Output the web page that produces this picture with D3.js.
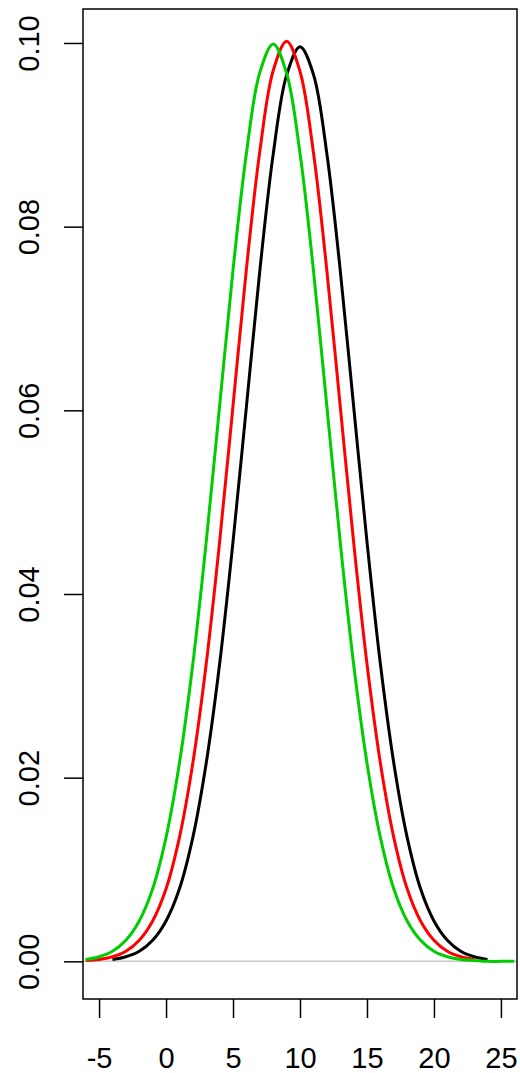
<!DOCTYPE html>
<html>
<head>
<meta charset="utf-8">
<script src="https://cdn.jsdelivr.net/npm/d3@7"></script>
<style>
  body { margin: 0; background: #fff; }
  svg { display: block; }
  text { font-family: "Liberation Sans", Arial, sans-serif; }
</style>
</head>
<body>
<svg width="520" height="1073"></svg>
<script>
// density estimates at 1-unit steps
var blackX = [-4,-3,-2,-1,0,1,2,3,4,5,6,7,8,9,10,11,12,13,14,15,16,17,18,19,20,21,22,23,24];
var blackY = [0.0002,0.0005,0.0011,0.0023,0.0044,0.0079,0.0135,0.0216,0.0324,0.0457,0.0604,0.0752,0.0879,0.0965,0.0996,0.0966,0.0880,0.0753,0.0605,0.0457,0.0324,0.0216,0.0135,0.0079,0.0044,0.0023,0.0011,0.0005,0.0002];

var redX = [-6,-5,-4,-3,-2,-1,0,1,2,3,4,5,6,7,8,9,10,11,12,13,14,15,16,17,18,19,20,21,22,23];
var redY = [0.0001,0.0002,0.0005,0.0011,0.0023,0.0044,0.0079,0.0135,0.0216,0.0324,0.0457,0.0605,0.0754,0.0882,0.0970,0.1002,0.0969,0.0881,0.0753,0.0605,0.0457,0.0324,0.0216,0.0135,0.0079,0.0044,0.0023,0.0011,0.0005,0.0002];

var greenX = [-6,-5,-4,-3,-2,-1,0,1,2,3,4,5,6,7,8,9,10,11,12,13,14,15,16,17,18,19,20,21,22,23,24,25,26];
var greenY = [0.0002,0.0005,0.0011,0.0023,0.0044,0.0079,0.0135,0.0216,0.0324,0.0457,0.0605,0.0753,0.0880,0.0968,0.0999,0.0967,0.0880,0.0753,0.0605,0.0457,0.0324,0.0216,0.0135,0.0079,0.0044,0.0023,0.0011,0.0005,0.0002,0.0001,0,0,0];

var xTicks = [-5,0,5,10,15,20,25];
var yTicks = [0,0.02,0.04,0.06,0.08,0.10];

var series = [
  {x: blackX, y: blackY, col: "#000000"},
  {x: redX, y: redY, col: "#ff0000"},
  {x: greenX, y: greenY, col: "#00cd00"}
];

var plotLeft = 83, plotRight = 517, plotTop = 9, plotBottom = 999;
var svg = d3.select("svg");

var x = d3.scaleLinear().domain([-6.2, 26.2]).range([plotLeft, plotRight]);
var y = d3.scaleLinear().domain([-0.0041, 0.1037]).range([plotBottom, plotTop]);

svg.append("defs").append("clipPath").attr("id", "plotclip")
  .append("rect").attr("x", plotLeft).attr("y", plotTop)
  .attr("width", plotRight - plotLeft).attr("height", plotBottom - plotTop);

// zero line
svg.append("line")
  .attr("x1", plotLeft).attr("x2", plotRight)
  .attr("y1", y(0)).attr("y2", y(0))
  .style("stroke", "#c8c8c8").style("stroke-width", 1.5);

var line = d3.line().curve(d3.curveCatmullRom.alpha(0.5))
  .x(function(d) { return x(d[0]) })
  .y(function(d) { return y(d[1]) });

svg.append("g").attr("clip-path", "url(#plotclip)")
  .selectAll("path").data(series)
  .enter().append("path")
  .attr("d", function(s) {
    return line(s.x.map(function(v, i) { return [v, s.y[i]] }));
  })
  .style("fill", "none")
  .style("stroke", function(s) { return s.col })
  .style("stroke-width", 3)
  .style("stroke-linejoin", "round");

// box
svg.append("rect")
  .attr("x", plotLeft).attr("y", plotTop)
  .attr("width", plotRight - plotLeft).attr("height", plotBottom - plotTop)
  .style("fill", "none").style("stroke", "#000").style("stroke-width", 1.5);

// x axis
var xa = svg.append("g").attr("transform", "translate(0," + plotBottom + ")")
  .call(d3.axisBottom(x).tickValues(xTicks).tickSize(19)
    .tickFormat(function(d) { return String(d) }));
xa.select(".domain").remove();
xa.selectAll(".tick line").style("stroke", "#000").style("stroke-width", 1.5);
xa.selectAll(".tick text")
  .attr("y", 69).attr("dy", null)
  .style("font-size", "29px").style("fill", "#000");

// y axis
var ya = svg.append("g").attr("transform", "translate(" + plotLeft + ",0)")
  .call(d3.axisLeft(y).tickValues(yTicks).tickSize(19));
ya.select(".domain").remove();
ya.selectAll(".tick line").style("stroke", "#000").style("stroke-width", 1.5);
ya.selectAll(".tick text").remove();
ya.selectAll(".tick").append("text")
  .attr("transform", "translate(-44,0) rotate(-90)")
  .attr("text-anchor", "middle")
  .style("font-size", "29px").style("fill", "#000")
  .text(function(d) { return d3.format(".2f")(d) });
</script>
</body>
</html>
